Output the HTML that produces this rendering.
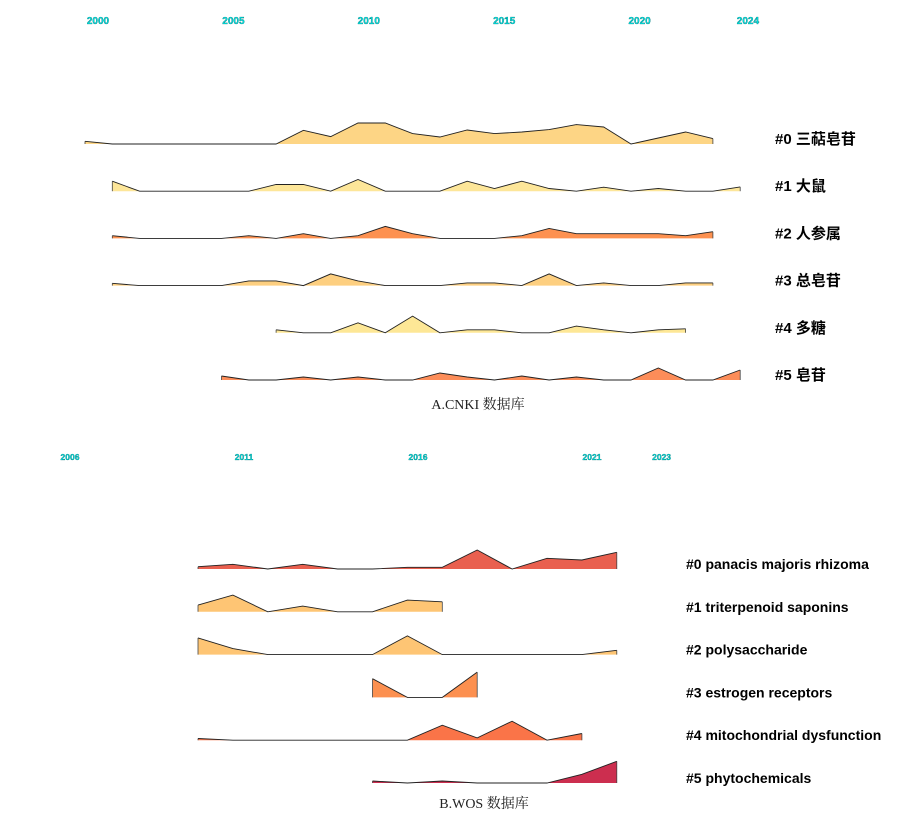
<!DOCTYPE html>
<html><head><meta charset="utf-8">
<style>
html,body{margin:0;padding:0;background:#fff;}
svg{display:block;}
.yr{font-family:"Liberation Sans",sans-serif;font-weight:bold;fill:#00e0e0;stroke:#006a6a;stroke-width:0.3px;}
.lbl{font-family:"Liberation Sans","Noto Sans CJK SC",sans-serif;font-weight:bold;fill:#000;}
.ttl{font-family:"Liberation Serif","Noto Serif CJK SC",serif;font-size:14px;fill:#222;}
</style></head>
<body>
<svg id="chart" width="911" height="817" viewBox="0 0 911 817"></svg>
<script>
// ---- Panel A (CNKI) data ----
const aTickYears = [2000, 2005, 2010, 2015, 2020, 2024];
const aLabels = ["#0 三萜皂苷", "#1 大鼠", "#2 人参属", "#3 总皂苷", "#4 多糖", "#5 皂苷"];
const aStart = [0, 1, 1, 1, 7, 5];
const aColors = ["#fdd585", "#fde699", "#fd9150", "#fdcf80", "#fde796", "#fc8d59"];
const a0 = [2.7,0,0,0,0,0,0,0,13.7,7.4,21,21,10.4,7,14,10.4,12,14.4,19.4,17,0,6,12,5.4];
const a1 = [10,0,0,0,0,0,6.7,6.7,0,11.7,0,0,0,10,2.7,10,2.7,0,4,0,2.7,0,0,4.3];
const a2 = [2.7,0,0,0,0,2.7,0,4.7,0,2.7,12,4.7,0,0,0,2.7,10,4.7,4.7,4.7,4.7,2.7,6.7];
const a3 = [2.3,0,0,0,0,4.7,4.7,0,11.7,4.7,0,0,0,2.7,2.7,0,11.7,0,2.7,0,0,2.7,2.7];
const a4 = [3,0,0,10,0,16.7,0,3,3,0,0,6.7,3,0,3,4];
const a5 = [4,0,0,3,0,3,0,0,7,3,0,4,0,3,0,0,12,0,0,10];
const aSeries = [a0, a1, a2, a3, a4, a5];

// ---- Panel B (WOS) data ----
const bTickYears = [2006, 2011, 2016, 2021, 2023];
const bLabels = ["#0 panacis majoris rhizoma", "#1 triterpenoid saponins", "#2 polysaccharide", "#3 estrogen receptors", "#4 mitochondrial dysfunction", "#5 phytochemicals"];
const bStart = [0, 0, 0, 5, 0, 5];
const bColors = ["#e9604f", "#fec574", "#fec574", "#fc9050", "#fa7448", "#cc2e4f"];
const b0 = [2.3,4.7,0,4.7,0,0,1.7,1.7,19,0,10.7,9,16.7];
const b1 = [6.7,16.7,0,5.7,0,0,11.7,10];
const b2 = [16.7,6,0,0,0,0,18.7,0,0,0,0,0,4.3];
const b3 = [18.7,0,0,25.3];
const b4 = [1.7,0,0,0,0,0,0,15,2.3,19,0,6.7];
const b5 = [2,0,2,0,0,0,8.7,21.7];
const bSeries = [b0, b1, b2, b3, b4, b5];

const NS = "http://www.w3.org/2000/svg";
const svg = document.getElementById("chart");
function mk(tag, attrs, parent){const e=document.createElementNS(NS,tag);for(const k in attrs)e.setAttribute(k,attrs[k]);(parent||svg).appendChild(e);return e;}

// axis functions
const axA = {x: i => 85 + i*27.3, tick: y => 98 + (y-2000)*27.08, base: k => 144 + k*47.2, h: v => v};
const axB = {x: i => 198 + i*34.9, tick: y => 70 + (y-2006)*34.8, base: k => 569 + k*42.8, h: v => v};

function drawPanel(ax, series, starts, colors, labels, ticks, tickY, tickSize, labelX, labelSize, prefix){
  const g = mk("g", {});
  
  
  ticks.forEach(t => {
    const tx = mk("text", {x: ax.tick(t), y: tickY, "text-anchor":"middle", "font-size": tickSize, class:"yr"}, g);
    tx.textContent = t;
    
    
  });
  series.forEach((vals, k) => {
    const b = ax.base(k);
    const pts = vals.map((v, j) => [ax.x(starts[k]+j), b - ax.h(v)]);
    const top = pts.map((p,j)=>(j?"L":"M")+p[0].toFixed(1)+","+p[1].toFixed(1)).join(" ");
    const x0 = pts[0][0], x1 = pts[pts.length-1][0];
    const area = mk("path", {d: top + ` L${x1},${b} L${x0},${b} Z`, fill: colors[k], stroke:"none"}, g);
    
    
    mk("path", {d: top, fill:"none", stroke:"#222", "stroke-width":"0.9"}, g);
    mk("line", {x1:x0, y1:b, x2:x0, y2:pts[0][1], stroke:"#444", "stroke-width":"0.8"}, g);
    mk("line", {x1:x1, y1:b, x2:x1, y2:pts[pts.length-1][1], stroke:"#444", "stroke-width":"0.8"}, g);
    const lb = mk("text", {x: labelX, y: b, "font-size": labelSize, class:"lbl"}, g);
    lb.textContent = labels[k];
    
    
  });
}
drawPanel(axA, aSeries, aStart, aColors, aLabels, aTickYears, 24, 10, 775, 15, "cnki");
drawPanel(axB, bSeries, bStart, bColors, bLabels, bTickYears, 460, 8.5, 686, 14, "wos");

const t1 = mk("text", {x: 478, y: 409, "text-anchor":"middle", class:"ttl"});
t1.textContent = "A.CNKI 数据库";


const t2 = mk("text", {x: 484, y: 808, "text-anchor":"middle", class:"ttl"});
t2.textContent = "B.WOS 数据库";


</script>
</body></html>
